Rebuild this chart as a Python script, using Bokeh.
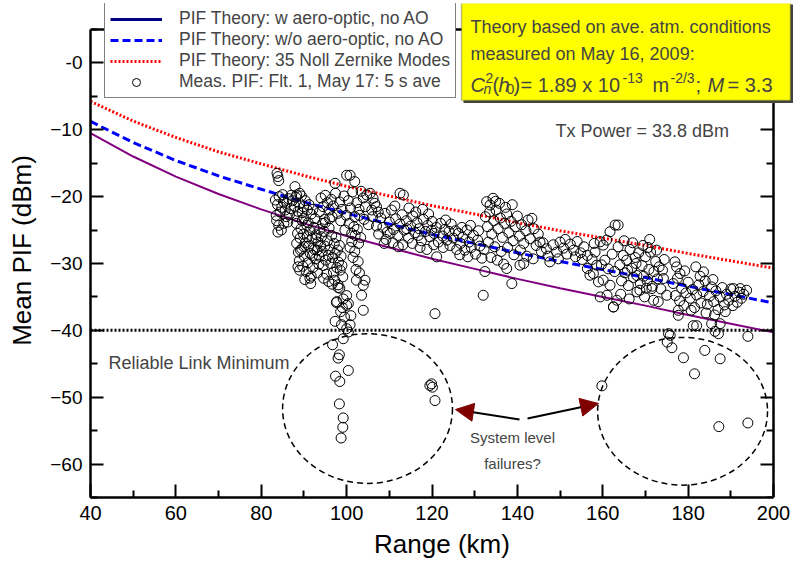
from bokeh.plotting import figure
from bokeh.models import (FixedTicker, LinearAxis, Legend, LegendItem, Label,
                          BoxAnnotation, Arrow, NormalHead, CustomJSTickFormatter)
from bokeh.embed import file_html
from bokeh.resources import INLINE

# ---------------- data ----------------
theory_range_km = [40, 50, 60, 70, 80, 90, 100, 110, 120, 130, 140, 150, 160, 170, 180, 190, 200]
pif_w_aero = [-10.5, -14.0, -17.0, -19.6, -21.9, -24.0, -25.9, -27.6, -29.3, -30.8, -32.3,
              -33.7, -35.0, -36.3, -37.7, -39.0, -40.3]
pif_wo_aero = [-8.75, -11.9, -14.6, -16.9, -18.9, -20.8, -22.5, -24.1, -25.65, -27.0, -28.4,
               -29.7, -30.9, -32.1, -33.4, -34.65, -35.9]
pif_noll35 = [-5.75, -8.7, -11.15, -13.3, -15.1, -16.85, -18.45, -19.9, -21.35, -22.6, -23.9,
              -25.1, -26.2, -27.3, -28.5, -29.6, -30.7]

reliable_link_min = -40

meas_83_92 = [(83.7, -16.5), (83.9, -17.0), (84.1, -17.6), (87.9, -18.5), (88.3, -19.75), (89.0, -19.5),
              (83.3, -20.5), (83.8, -21.2), (84.2, -20.0), (84.8, -21.6), (85.2, -20.8), (85.6, -22.0),
              (86.0, -21.0), (86.4, -20.3), (86.9, -21.8), (87.3, -20.6), (87.8, -21.4), (88.1, -20.1),
              (88.6, -22.2), (89.0, -21.0), (89.4, -19.9), (89.9, -21.5), (90.3, -20.6), (90.8, -22.0),
              (91.2, -21.2), (91.7, -22.6), (85.0, -19.7), (86.6, -22.7), (87.0, -19.8), (88.4, -23.0),
              (89.6, -22.4), (84.4, -22.3), (83.5, -22.8), (92.1, -21.9), (90.0, -23.2), (85.9, -23.0),
              (83.6, -23.6), (84.1, -24.3), (84.7, -25.0), (83.9, -25.3), (85.3, -24.0), (86.2, -23.8)]

meas_88_94 = [(88.2, -24.0), (88.5, -25.5), (88.3, -27.0), (88.7, -28.3), (88.9, -29.6), (89.1, -26.2),
              (89.3, -24.8), (89.5, -27.8), (89.7, -30.4), (89.9, -25.6), (90.1, -28.9), (90.3, -26.9),
              (90.5, -31.2), (90.7, -24.3), (90.9, -29.9), (91.1, -27.4), (91.3, -25.1), (91.5, -28.5),
              (91.7, -31.9), (91.9, -26.3), (92.1, -30.6), (92.3, -24.6), (92.5, -27.9), (92.7, -29.3),
              (92.9, -25.7), (93.1, -28.0), (93.3, -26.8), (93.5, -30.1), (93.7, -24.9), (93.9, -27.3),
              (89.0, -31.0), (90.2, -32.4), (91.6, -33.0), (90.8, -26.0), (92.0, -28.8), (89.6, -23.6),
              (91.0, -23.9), (92.6, -23.3), (93.2, -31.4), (88.6, -30.5), (91.4, -32.2), (90.0, -27.5),
              (92.8, -26.2), (89.2, -28.0), (93.6, -28.9)]

meas_94_100 = [(94.1, -26.0), (94.3, -28.2), (94.5, -30.3), (94.7, -25.2), (94.9, -27.4), (95.1, -29.5),
               (95.3, -31.6), (95.5, -26.6), (95.7, -28.8), (95.9, -24.7), (96.1, -27.9), (96.3, -30.0),
               (96.5, -25.8), (96.7, -29.1), (96.9, -31.3), (97.1, -27.0), (97.3, -28.5), (97.5, -26.1),
               (97.7, -30.6), (97.9, -28.0), (98.1, -29.8), (98.3, -27.3), (98.5, -31.0), (98.7, -28.9),
               (98.9, -30.3), (99.1, -32.0), (94.6, -32.2), (95.8, -32.7), (96.6, -33.1), (97.2, -32.5),
               (98.0, -33.6), (95.0, -23.9), (96.0, -23.3), (94.4, -24.0)]

meas_97_101_trail = [(98.0, -33.2), (98.4, -33.7), (100.0, -34.8), (100.4, -36.0), (97.7, -35.7),
                     (99.2, -35.3), (97.6, -35.85), (100.0, -36.25), (98.6, -37.2), (99.5, -38.0),
                     (97.3, -38.65), (98.8, -39.15), (100.8, -39.15), (100.0, -39.75), (100.4, -40.25),
                     (99.2, -41.25), (96.7, -42.15), (98.3, -43.65), (98.0, -44.15), (100.4, -46.0),
                     (97.4, -46.85), (98.4, -47.65), (98.3, -51.0), (99.2, -53.1), (99.1, -54.5),
                     (98.7, -56.1), (101.0, -37.8), (99.0, -36.6)]

meas_101_104 = [(103.9, -37.0), (103.5, -34.75), (103.9, -33.25), (104.3, -32.5), (102.3, -32.5),
                (102.7, -29.7), (101.9, -28.2), (101.2, -26.7), (102.2, -30.9), (103.0, -31.4),
                (101.5, -29.1), (100.8, -27.6), (102.0, -25.8), (102.8, -27.0), (101.7, -24.5),
                (102.5, -24.9), (103.3, -26.1)]

meas_93_108_top = [(100.0, -16.8), (100.8, -16.8), (101.9, -17.75), (97.3, -18.0),
                   (94.0, -20.2), (94.5, -21.5), (95.0, -19.8), (95.5, -20.9), (96.0, -22.0), (96.4, -20.4),
                   (96.9, -21.4), (97.4, -19.5), (97.9, -22.5), (98.4, -20.8), (98.9, -21.9), (99.4, -19.9),
                   (99.9, -22.8), (100.4, -20.6), (100.9, -21.7), (101.4, -19.3), (101.9, -23.0), (102.4, -20.9),
                   (102.9, -21.9), (103.4, -19.2), (103.9, -20.2), (104.4, -21.5), (104.7, -19.75), (105.5, -19.5),
                   (106.2, -20.25), (107.0, -21.5), (105.9, -22.0), (106.6, -21.0), (107.4, -22.3), (93.6, -22.3),
                   (94.8, -23.4), (96.6, -23.0), (98.6, -23.6), (100.6, -24.0), (104.1, -23.4), (105.1, -24.2),
                   (106.1, -23.0), (107.0, -24.4), (103.0, -22.8), (99.6, -25.0), (101.2, -25.5)]

meas_108_126 = [(108.0, -23.2), (108.5, -24.6), (109.0, -22.5), (109.5, -25.3), (110.0, -23.8), (110.5, -22.0),
                (111.0, -24.9), (111.5, -23.3), (112.0, -25.8), (112.5, -24.1), (113.0, -22.7), (113.5, -25.0),
                (114.0, -23.6), (114.5, -26.2), (115.0, -24.4), (115.5, -22.9), (116.0, -25.4), (116.5, -23.9),
                (117.0, -24.8), (117.5, -26.6), (118.0, -23.4), (118.5, -25.2), (119.0, -24.3), (119.5, -26.0),
                (120.0, -23.7), (120.5, -25.5), (121.0, -24.6), (121.5, -26.8), (122.0, -24.0), (122.5, -25.9),
                (123.0, -24.9), (123.5, -26.5), (124.0, -25.2), (124.5, -24.1), (125.0, -26.2), (125.5, -25.1),
                (109.2, -26.4), (110.8, -26.9), (113.2, -27.2), (112.1, -27.5), (111.3, -21.4), (112.5, -19.5),
                (113.3, -19.75), (114.6, -21.7), (116.2, -22.3), (117.8, -21.9), (119.2, -22.6), (115.4, -27.0),
                (117.2, -27.6), (118.8, -27.9), (120.4, -27.2), (121.1, -29.0), (120.7, -37.5), (122.6, -27.6),
                (124.2, -27.3), (125.8, -27.9), (110.2, -25.5), (114.1, -24.8), (116.8, -25.8), (119.9, -25.0),
                (123.2, -23.5), (107.5, -25.6), (108.8, -27.0)]

meas_126_132 = [(126.2, -25.5), (126.7, -27.0), (127.2, -26.1), (127.7, -28.0), (128.2, -25.0), (128.7, -26.8),
                (129.2, -27.6), (129.7, -25.8), (130.2, -28.6), (130.7, -26.5), (131.2, -27.4), (131.7, -29.2),
                (127.0, -24.6), (129.0, -24.3), (130.9, -25.1), (126.5, -28.7), (128.4, -29.0)]

meas_132_146 = [(132.8, -20.75), (134.3, -20.25), (133.6, -21.25), (132.0, -34.75), (132.4, -31.2),
                (132.5, -23.0), (133.0, -24.5), (133.5, -22.3), (134.0, -25.6), (134.5, -23.6), (135.0, -22.0),
                (135.5, -24.8), (136.0, -23.2), (136.5, -26.1), (137.0, -24.0), (137.5, -22.6), (138.0, -25.4),
                (138.5, -23.7), (139.0, -26.6), (139.5, -24.5), (140.0, -22.9), (140.5, -25.9), (141.0, -24.2),
                (141.5, -27.0), (142.0, -25.1), (142.5, -23.5), (143.0, -26.3), (143.4, -23.25), (143.9, -24.8),
                (144.4, -27.3), (144.9, -25.6), (145.3, -26.8), (133.2, -26.8), (134.7, -27.5), (136.2, -28.2),
                (137.7, -27.6), (139.2, -28.7), (140.7, -28.0), (142.2, -28.9), (143.7, -29.3), (132.2, -27.9),
                (133.8, -29.1), (135.3, -29.5), (136.8, -30.1), (138.7, -33.0), (137.5, -30.75), (140.6, -30.25),
                (141.5, -30.0), (135.8, -21.0), (137.2, -21.6), (138.8, -21.2), (134.9, -20.7)]

meas_146_157 = [(146.0, -26.9), (146.8, -27.8), (147.6, -29.75), (148.4, -27.2), (149.2, -28.3), (150.0, -26.8),
                (150.8, -27.7), (151.6, -28.6), (152.4, -27.1), (153.2, -28.0), (154.0, -26.7), (154.8, -28.4),
                (155.6, -27.5), (156.4, -28.8), (147.2, -28.9), (149.6, -29.3), (151.2, -26.4), (153.6, -29.0),
                (155.2, -29.4), (145.6, -28.2)]

meas_156_164 = [(156.4, -30.75), (157.0, -31.75), (157.8, -31.5), (158.6, -30.25), (159.0, -32.75), (160.1, -32.5),
                (161.7, -33.25), (159.4, -35.0), (161.0, -34.75), (162.5, -36.5), (163.3, -35.5), (161.7, -25.25),
                (163.6, -24.25), (162.9, -24.25), (160.9, -26.5), (160.1, -27.25), (159.4, -26.75), (157.5, -29.4),
                (158.2, -28.3), (160.5, -29.5), (161.3, -30.8), (162.2, -28.6), (162.8, -31.2), (159.7, -30.2),
                (158.0, -27.0)]

meas_164_175 = [(163.6, -27.5), (164.0, -30.2), (164.4, -32.6), (164.8, -28.8), (165.2, -31.4), (165.6, -29.5),
                (166.0, -33.3), (166.4, -27.9), (166.8, -30.7), (167.2, -32.1), (167.6, -29.1), (168.0, -31.8),
                (168.4, -28.4), (168.8, -33.0), (169.2, -30.3), (169.6, -31.9), (170.0, -29.0), (170.4, -32.6),
                (170.8, -30.9), (171.2, -28.3), (171.6, -33.4), (172.0, -31.2), (172.4, -29.7), (172.8, -32.3),
                (173.2, -30.5), (173.6, -33.8), (174.0, -31.0), (174.4, -29.4), (168.7, -34.0), (168.0, -34.25),
                (171.9, -35.5), (171.5, -33.75), (174.2, -32.25), (175.0, -34.75), (165.0, -26.6), (167.0, -26.9),
                (169.4, -27.3), (170.6, -27.6), (172.6, -28.0), (164.2, -34.6), (166.2, -35.3), (169.8, -35.0),
                (173.0, -35.7), (165.8, -31.0), (167.8, -30.0), (170.2, -33.7), (171.0, -26.4)]

meas_175_194 = [(176.9, -29.75), (177.3, -30.5), (178.1, -31.5), (183.6, -31.25), (177.7, -37.75), (177.7, -37.0),
                (176.5, -33.0), (177.0, -34.8), (177.5, -32.2), (178.0, -35.6), (178.5, -33.7), (179.0, -36.3),
                (179.5, -34.4), (180.0, -32.8), (180.5, -35.2), (181.0, -33.9), (181.5, -36.6), (182.0, -34.7),
                (182.5, -33.2), (183.0, -35.9), (183.5, -34.2), (184.0, -32.6), (184.5, -36.1), (185.0, -34.9),
                (185.5, -33.5), (186.0, -35.7), (186.5, -34.1), (187.0, -36.9), (187.5, -35.0), (188.0, -33.6),
                (188.5, -36.2), (189.0, -34.6), (189.5, -35.5), (190.0, -33.8), (190.5, -36.3), (191.0, -34.9),
                (191.5, -35.8), (192.0, -34.3), (192.5, -35.2), (193.0, -34.6), (184.2, -37.4), (186.2, -37.7),
                (188.7, -37.2), (180.7, -37.0), (182.8, -31.9), (185.8, -32.4), (179.2, -31.1), (181.8, -30.5),
                (190.6, -33.75), (192.2, -33.75), (193.7, -34.0)]

meas_failures = [(175.4, -40.5), (175.8, -40.75), (175.1, -41.75), (176.2, -42.6), (178.9, -44.1),
                 (183.9, -43.0), (187.5, -44.25), (181.5, -46.5), (187.2, -54.4), (194.0, -53.85),
                 (181.2, -39.3), (182.0, -39.3), (185.5, -39.0), (187.5, -39.0), (186.3, -40.15),
                 (187.1, -40.5), (194.0, -40.9), (159.8, -48.3), (162.5, -36.5),
                 (119.9, -48.0), (119.5, -48.25), (120.1, -48.5), (120.7, -50.5)]

meas_clusters = [meas_83_92, meas_88_94, meas_94_100, meas_97_101_trail, meas_101_104, meas_93_108_top,
                 meas_108_126, meas_126_132, meas_132_146, meas_146_157, meas_156_164, meas_164_175,
                 meas_175_194, meas_failures]
meas_range = [pt[0] for c in meas_clusters for pt in c]
meas_pif = [pt[1] for c in meas_clusters for pt in c]

x_ticks = [40, 60, 80, 100, 120, 140, 160, 180, 200]
x_minor = [50, 70, 90, 110, 130, 150, 170, 190]
y_ticks = [0, -10, -20, -30, -40, -50, -60]
y_minor = [5, -5, -15, -25, -35, -45, -55, -65]

# failure ellipses (center range, center PIF, width km, height dB)
ell_x = [104.9, 178.7]
ell_y = [-51.7, -52.1]
ell_w = [39.8, 39.8]
ell_h = [22.4, 22.1]

# ---------------- layout helpers ----------------
X_MIN, X_MAX, Y_MIN, Y_MAX = 40, 200, -65, 5       # axis extents
FL, FT = 90, 29                                      # pixel position of (40, 5)
KM_PER_PX = (X_MAX - X_MIN) / 683.0
DB_PER_PX = (Y_MAX - Y_MIN) / 468.0
TOP_PX = 3                                           # frame extends above the axis top
VIEW_X_MAX = X_MIN + (793 - FL) * KM_PER_PX
VIEW_Y_MAX = Y_MAX + (FT - TOP_PX) * DB_PER_PX

def px_x(px):
    return X_MIN + (px - FL) * KM_PER_PX
def px_y(py):
    return Y_MAX - (py - FT) * DB_PER_PX

FONT = "Liberation Sans"

p = figure(width=793, height=574, x_range=(X_MIN, VIEW_X_MAX), y_range=(Y_MIN, VIEW_Y_MAX),
           output_backend="svg", toolbar_location=None, title=None,
           min_border_left=FL, min_border_right=0, min_border_top=TOP_PX,
           min_border_bottom=574 - FT - 468,
           x_axis_label="Range (km)", y_axis_label="Mean PIF (dBm)")
p.xgrid.visible = False
p.ygrid.visible = False
p.outline_line_color = None
p.background_fill_color = "white"
p.border_fill_color = "white"

def style_axis(ax, size):
    ax.axis_line_width = 2.5
    ax.major_tick_in = 13
    ax.major_tick_out = 0
    ax.minor_tick_in = 7
    ax.minor_tick_out = 0
    ax.major_tick_line_width = 2
    ax.minor_tick_line_width = 2
    ax.major_label_text_font = FONT
    ax.major_label_text_font_size = size
    ax.major_label_text_color = "black"
    ax.major_label_standoff = 8
    ax.axis_label_text_font = FONT
    ax.axis_label_text_font_size = "26px"
    ax.axis_label_text_font_style = "normal"
    ax.axis_label_text_color = "black"

xa = p.xaxis[0]
xa.ticker = FixedTicker(ticks=x_ticks, minor_ticks=x_minor)
style_axis(xa, "20px")
xa.axis_label_standoff = 6
xa.bounds = (X_MIN, X_MAX)
ya = p.yaxis[0]
ya.ticker = FixedTicker(ticks=y_ticks, minor_ticks=y_minor)
style_axis(ya, "19px")
ya.major_label_overrides = {0: "-0"}
ya.axis_label_standoff = 10
ya.bounds = (Y_MIN, Y_MAX)

ra = LinearAxis(ticker=FixedTicker(ticks=y_ticks, minor_ticks=y_minor),
                formatter=CustomJSTickFormatter(code="return ''"),
                fixed_location=X_MAX, bounds=(Y_MIN, Y_MAX))
style_axis(ra, "19px")
ra.major_label_standoff = 0
p.add_layout(ra, "right")

# top frame edge and reliable link minimum
p.segment(x0=[X_MIN], x1=[X_MAX], y0=[Y_MAX], y1=[Y_MAX], line_color="black", line_width=2.5)
p.segment(x0=[X_MIN], x1=[X_MAX], y0=[reliable_link_min], y1=[reliable_link_min],
          line_color="black", line_width=3, line_dash="2 2")

# theory curves
r_purple = p.line(theory_range_km, pif_w_aero, line_color="#800080", line_width=2)
r_navy = p.line([float("nan")], [float("nan")], line_color="#000080", line_width=3)
r_blue = p.line(theory_range_km, pif_wo_aero, line_color="#0000ff", line_width=3, line_dash="8 4")
r_red = p.line(theory_range_km, pif_noll35, line_color="#ff0000", line_width=3, line_dash="2 2")

r_meas = p.scatter(meas_range, meas_pif, marker="circle", size=10, fill_color=None,
                   line_color="black", line_width=1)

p.ellipse(x=ell_x, y=ell_y, width=ell_w, height=ell_h, fill_color=None, line_color="black",
          line_width=1.5, line_dash="6 4")

# arrows
for (x0, y0, x1, y1) in [(519, 419, 455, 409), (527, 418, 598, 403)]:
    p.add_layout(Arrow(x_start=px_x(x0), y_start=px_y(y0), x_end=px_x(x1), y_end=px_y(y1),
                       line_color="black", line_width=2,
                       end=NormalHead(size=18, fill_color="#800000", line_color="#800000")))

p.add_layout(Label(x=px_x(512), y=px_y(437), text="System level", text_align="center",
                   text_baseline="middle", text_font=FONT, text_font_size="15px"))
p.add_layout(Label(x=px_x(512), y=px_y(463), text="failures?", text_align="center",
                   text_baseline="middle", text_font=FONT, text_font_size="15px"))

p.add_layout(Label(x=px_x(108), y=px_y(362), text="Reliable Link Minimum",
                   text_baseline="alphabetic", text_font=FONT, text_font_size="18px"))
p.add_layout(Label(x=px_x(555), y=px_y(130), text="Tx Power = 33.8 dBm",
                   text_baseline="alphabetic", text_font=FONT, text_font_size="18px"))

# legend
legend = Legend(items=[
    LegendItem(label="PIF Theory: w aero-optic, no AO", renderers=[r_navy]),
    LegendItem(label="PIF Theory: w/o aero-optic, no AO", renderers=[r_blue]),
    LegendItem(label="PIF Theory: 35 Noll Zernike Modes", renderers=[r_red]),
    LegendItem(label="Meas. PIF: Flt. 1, May 17: 5 s ave", renderers=[r_meas]),
], location=(14, 399))
legend.border_line_color = "black"
legend.border_line_width = 1.5
legend.background_fill_color = "white"
legend.background_fill_alpha = 1
legend.label_text_font = FONT
legend.label_text_font_size = "17.5px"
legend.glyph_width = 52
legend.glyph_height = 20
legend.label_height = 20
legend.label_standoff = 17
legend.spacing = 0
legend.padding = 5
legend.margin = 0
p.add_layout(legend, "center")

# yellow info box
p.add_layout(BoxAnnotation(left=px_x(463), right=px_x(793), top=px_y(4), bottom=px_y(102.5),
                           fill_color="#444444", fill_alpha=1, line_color=None))
p.add_layout(BoxAnnotation(left=px_x(461), right=px_x(790), top=px_y(2), bottom=px_y(100),
                           fill_color="#ffff00", fill_alpha=1, line_color="#333333", line_width=1.5))

def txt(px, py, s, size="20px", style="normal"):
    p.add_layout(Label(x=px_x(px), y=px_y(py), text=s, text_baseline="alphabetic",
                       text_font=FONT, text_font_size=size, text_font_style=style))

txt(470, 26.7, "Theory based on ave. atm. conditions", size="18px")
txt(470, 53.3, "measured on May 16, 2009:", size="18px")
txt(470, 84, "C", style="italic")
txt(483, 88, "n", size="14px", style="italic")
txt(485, 77, "2", size="14px")
txt(492, 84, "(")
txt(498, 84, "h", style="italic")
txt(506, 88, "0", size="14px")
txt(513, 84, ")")
txt(520, 84, "= 1.89 x 10")
txt(622, 77, "-13", size="14px")
txt(652, 84, "m")
txt(670, 77, "-2/3", size="14px")
txt(695, 84, ";")
txt(707, 84, "M", style="italic")
txt(727, 84, "= 3.3")

open("out.html", "w").write(file_html(p, INLINE))
